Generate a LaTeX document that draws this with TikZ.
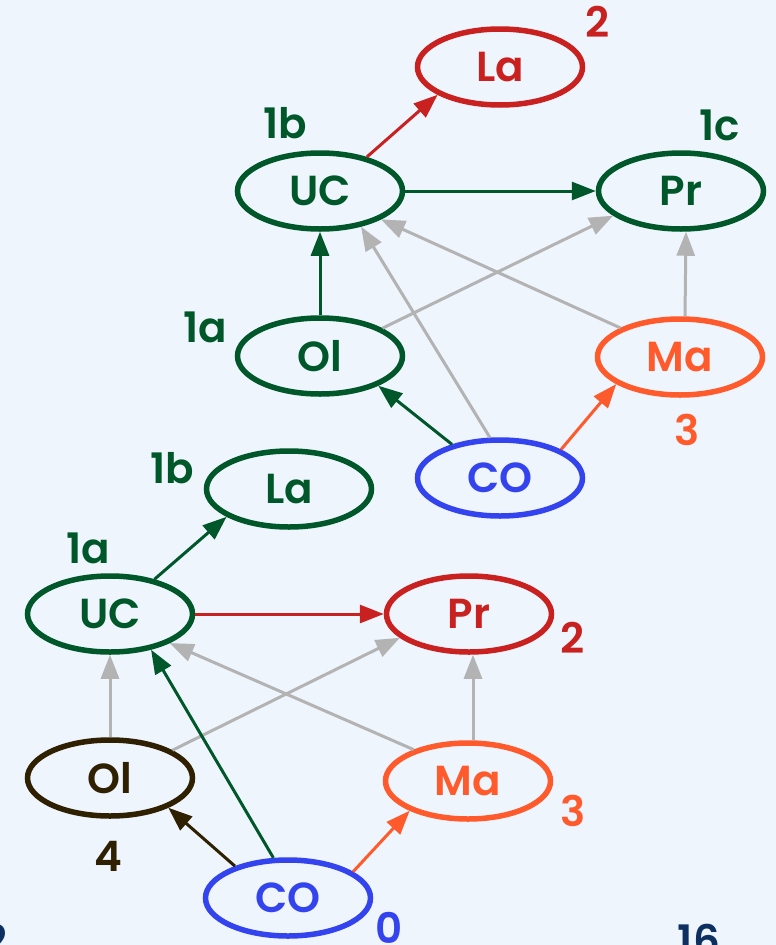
\documentclass[tikz,border=0pt]{standalone}
\usepackage{fontspec}
\setmainfont{Poppins}[BoldFont={Poppins SemiBold}]
\usetikzlibrary{shapes.geometric,arrows.meta}
\definecolor{bg}{HTML}{EFF5FD}
\definecolor{cgreen}{HTML}{00582A}
\definecolor{cred}{HTML}{C8211F}
\definecolor{corange}{HTML}{FF5A2B}
\definecolor{cblue}{HTML}{3344EE}
\definecolor{cbrown}{HTML}{2E2000}
\definecolor{cgray}{HTML}{B3B3B3}
\definecolor{cnavy}{HTML}{0D3060}
\begin{document}
\begin{tikzpicture}[x=1pt,y=-1pt,
  txt/.style={font=\fontsize{42}{42}\selectfont\bfseries},
  state/.style={ellipse, draw, line width=5.5pt, minimum width=165pt,
    minimum height=76pt, inner sep=0pt, txt},
  lbl/.style={inner sep=0pt, txt},
  link/.style={line width=3pt, -{Triangle[length=24pt,width=18pt]}},
  faint/.style={link, cgray}]
\path[use as bounding box, fill=bg] (0,0) rectangle (776,945);
\clip (0,0) rectangle (776,945);

% ---- upper graph ----
\node[state, cred]    (laA) at (500,67)  {La};
\node[state, cgreen]  (ucA) at (320,191) {UC};
\node[state, cgreen]  (prA) at (681,191) {Pr};
\node[state, cgreen]  (olA) at (320,356) {Ol};
\node[state, corange] (maA) at (680,357) {Ma};
\node[state, cblue]   (coA) at (500,478) {CO};

\node[lbl, cred]    (tA1) at (598,22)  {2};
\node[lbl, cgreen]  (tA2) at (285,123) {1b};
\node[lbl, cgreen]  (tA3) at (720,125) {1c};
\node[lbl, cgreen]  (tA4) at (205,327) {1a};
\node[lbl, corange] (tA5) at (687,430) {3};

\draw[faint] (coA.104) -- (ucA.319);
\draw[faint] (maA.154) -- (ucA.335);
\draw[faint] (olA.24)  -- (prA.200);
\draw[faint] ([xshift=5pt]maA.north) -- ([xshift=5pt]prA.south);

\draw[link, cred]    (ucA.36)  -- (laA.204);
\draw[link, cgreen]  (ucA.east) -- (prA.west);
\draw[link, cgreen]  (olA.north) -- (ucA.south);
\draw[link, cgreen]  (coA.145) -- (olA.333);
\draw[link, corange] (coA.25)  -- (maA.203);

% ---- lower graph ----
\node[state, cgreen]  (laB) at (289,489) {La};
\node[state, cgreen]  (ucB) at (110,614) {UC};
\node[state, cred]    (prB) at (469,614) {Pr};
\node[state, cbrown]  (olB) at (110,778) {Ol};
\node[state, corange] (maB) at (468,781) {Ma};
\node[state, cblue]   (coB) at (288,898) {CO};

\node[lbl, cgreen]  (tB1) at (172,468) {1b};
\node[lbl, cgreen]  (tB2) at (88,548)  {1a};
\node[lbl, cred]    (tB3) at (573,638) {2};
\node[lbl, corange] (tB4) at (573,811) {3};
\node[lbl, cbrown]  (tB5) at (108,856) {4};
\node[lbl, cblue]   (tB6) at (389,928) {0};

\draw[faint] (olB.north) -- (ucB.south);
\draw[faint] (olB.24)  -- (prB.199);
\draw[faint] (maB.150) -- (ucB.334);
\draw[faint] ([xshift=5pt]maB.north) -- ([xshift=4pt]prB.south);

\draw[link, cgreen]  (ucB.38)  -- (laB.204);
\draw[link, cred]    (ucB.east) -- (prB.west);
\draw[link, cbrown]  (coB.149) -- (olB.333);
\draw[link, cgreen]  (coB.110) -- (ucB.319);
\draw[link, corange] (coB.22)  -- (maB.207);

% ---- page numbers at the lower edge ----
\node[lbl, cnavy, anchor=base] (pgL) at (-4,955) {2};
\node[lbl, cnavy, anchor=base] (pgR) at (699,955) {16};
\end{tikzpicture}
\end{document}
